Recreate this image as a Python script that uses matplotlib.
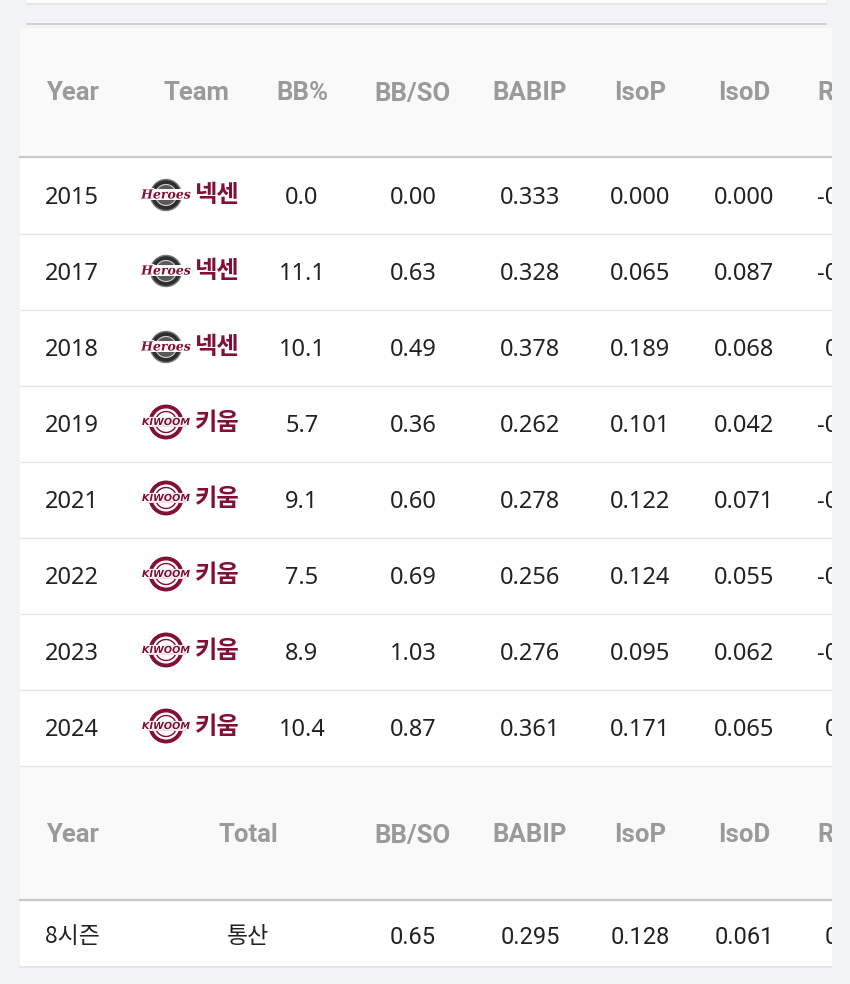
import matplotlib
matplotlib.use("Agg")
import matplotlib.pyplot as plt
from matplotlib.patches import Rectangle, Circle
import matplotlib.patheffects as pe

# ==============================
# Data
# ==============================

years = ["2015", "2017", "2018", "2019", "2021", "2022", "2023", "2024"]
teams = ["넥센", "넥센", "넥센", "키움", "키움", "키움", "키움", "키움"]
bb_pct = [0.0, 11.1, 10.1, 5.7, 9.1, 7.5, 8.9, 10.4]
bb_so = [0.00, 0.63, 0.49, 0.36, 0.60, 0.69, 1.03, 0.87]
babip = [0.333, 0.328, 0.378, 0.262, 0.278, 0.256, 0.276, 0.361]
isop = [0.000, 0.065, 0.189, 0.101, 0.122, 0.124, 0.095, 0.171]
isod = [0.000, 0.087, 0.068, 0.042, 0.071, 0.055, 0.062, 0.065]
r_cut = ["-0", "-0", "0", "-0", "-0", "-0", "-0", "0"]   # column is cut off

headers = ["Year", "Team", "BB%", "BB/SO", "BABIP", "IsoP", "IsoD", "R"]
total_headers = ["Year", "Total", "BB/SO", "BABIP", "IsoP", "IsoD", "R"]
total_row = ["8시즌", "통산", 0.65, 0.295, 0.128, 0.061, "0"]

# ==============================
# Style
# ==============================

PAGE = "#f2f3f5"
HEAD_BG = "#f9f9fa"
HEAD_TXT = "#9a9a9a"
TXT = "#222222"
MAROON = "#820f35"
KR = ["Noto Sans CJK KR", "DejaVu Sans"]

col_x = [72, 196, 302, 413, 530, 640, 744, 817]
total_x = [72, 248, 413, 530, 640, 744, 817]
row_y0, row_h = 196, 76
DY = 2.5   # nudge so text centres line up with the reference
LOGO_X = 166

fig = plt.figure(figsize=(8.5, 9.84), dpi=100, facecolor=PAGE)
ax = fig.add_axes([0, 0, 1, 1])
ax.set_xlim(0, 850)
ax.set_ylim(984, 0)
ax.axis("off")

# previous card bottom + divider
ax.add_patch(Rectangle((27, -10), 799, 13, fc="white", ec="none"))
ax.plot([27, 826], [3.5, 3.5], color="#e6e6e6", lw=1.5)
ax.plot([27, 826], [24, 24], color="#cccccc", lw=1.2)

# card
ax.add_patch(Rectangle((20, 28), 830, 939, fc="white", ec="none"))
ax.add_patch(Rectangle((20, 28), 830, 129, fc=HEAD_BG, ec="none"))
ax.plot([20, 832], [157, 157], color="#c9c9c9", lw=1.6)

for h, x in zip(headers, col_x):
    ax.text(x, 91 + DY, h, ha="left" if h == "R" else "center", va="center",
            fontsize=18.5, fontweight="bold", family="Roboto", color=HEAD_TXT)


def heroes_logo(cx, cy):
    ax.add_patch(Circle((cx, cy), 15.5, fc="#2e2e2e", ec="#777777", lw=1))
    ax.add_patch(Circle((cx, cy), 10.5, fc="#5a5a5a", ec="#cfcfcf", lw=0.8))
    ax.add_patch(Rectangle((cx - 20, cy - 6), 40, 11, fc="white", ec="none"))
    t = ax.text(cx, cy, "Heroes", ha="center", va="center", fontsize=9,
                fontweight="bold", style="italic", family="DejaVu Serif",
                color=MAROON)
    t.set_path_effects([pe.withStroke(linewidth=2, foreground="white")])


def kiwoom_logo(cx, cy):
    ax.add_patch(Circle((cx, cy), 15.5, fc="white", ec=MAROON, lw=2.8))
    ax.add_patch(Circle((cx, cy), 10.5, fc="white", ec=MAROON, lw=1))
    ax.add_patch(Rectangle((cx - 20, cy - 5), 40, 10, fc="#f3d7e2", ec="none"))
    t = ax.text(cx, cy, "KIWOOM", ha="center", va="center", fontsize=7,
                fontweight="bold", style="italic", family="DejaVu Sans",
                color=MAROON)
    t.set_path_effects([pe.withStroke(linewidth=1.5, foreground="white")])


for i in range(len(years)):
    y = row_y0 + i * row_h
    yt = y + DY
    num = dict(ha="center", va="center", fontsize=17, family="Noto Sans", color=TXT)
    ax.text(col_x[0], yt, years[i], **num)
    if teams[i] == "넥센":
        heroes_logo(LOGO_X, y - 1)
    else:
        kiwoom_logo(LOGO_X, y - 2)
    ax.text(217, y - 1, teams[i], ha="center", va="center", fontsize=17.5,
            fontweight="bold", family=KR, color=MAROON)
    ax.text(col_x[2], yt, f"{bb_pct[i]:.1f}", **num)
    ax.text(col_x[3], yt, f"{bb_so[i]:.2f}", **num)
    ax.text(col_x[4], yt, f"{babip[i]:.3f}", **num)
    ax.text(col_x[5], yt, f"{isop[i]:.3f}", **num)
    ax.text(col_x[6], yt, f"{isod[i]:.3f}", **num)
    rx = col_x[7] if r_cut[i].startswith("-") else col_x[7] + 8
    ax.text(rx, yt, r_cut[i] + ".0", ha="left", va="center", fontsize=17,
            family="Noto Sans", color=TXT)
    ax.plot([20, 832], [y + 38, y + 38], color="#e6e6e6", lw=1)

# total section
ax.add_patch(Rectangle((20, 767), 830, 133, fc=HEAD_BG, ec="none"))
ax.plot([20, 832], [900, 900], color="#c9c9c9", lw=1.6)
for h, x in zip(total_headers, total_x):
    ax.text(x, 833 + DY, h, ha="left" if h == "R" else "center", va="center",
            fontsize=18.5, fontweight="bold", family="Roboto", color=HEAD_TXT)

ty = 935 + DY
ax.text(total_x[0], ty - 1, total_row[0], ha="center", va="center", fontsize=16.5,
        family=KR, color=TXT)
ax.text(total_x[1], ty - 1, total_row[1], ha="center", va="center", fontsize=16.5,
        family=KR, color=TXT)
ax.text(total_x[2], ty, f"{total_row[2]:.2f}", ha="center", va="center",
        fontsize=17, family="Roboto", color=TXT)
for k in (3, 4, 5):
    ax.text(total_x[k], ty, f"{total_row[k]:.3f}", ha="center", va="center",
            fontsize=17, family="Roboto", color=TXT)
ax.text(total_x[6] + 8, ty, total_row[6] + ".0", ha="left", va="center",
        fontsize=17, family="Roboto", color=TXT)
ax.plot([20, 832], [967, 967], color="#e2e2e2", lw=1.2)

# right edge cuts the table off
ax.add_patch(Rectangle((832, 26), 30, 960, fc=PAGE, ec="none", zorder=10))

fig.savefig("out.png", dpi=100, facecolor=PAGE)
